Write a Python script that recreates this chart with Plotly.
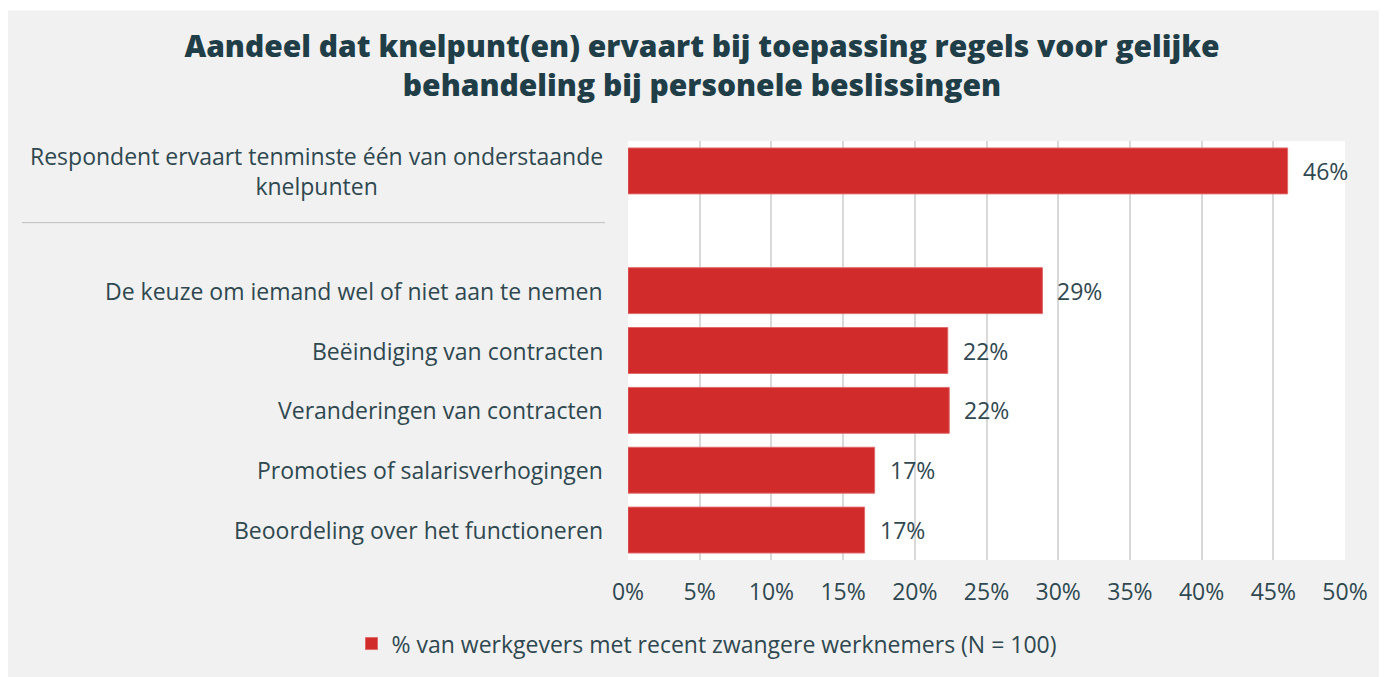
import plotly.graph_objects as go

# ---- data ----
categories = [
    "Respondent ervaart tenminste één van onderstaande<br>knelpunten",
    "De keuze om iemand wel of niet aan te nemen",
    "Beëindiging van contracten",
    "Veranderingen van contracten",
    "Promoties of salarisverhogingen",
    "Beoordeling over het functioneren",
]
values = [46.0, 28.9, 22.3, 22.4, 17.2, 16.5]
value_labels = ["46%", "29%", "22%", "22%", "17%", "17%"]
spacer = " "
category_order = [categories[0], spacer] + categories[1:]
tick_values = [0, 5, 10, 15, 20, 25, 30, 35, 40, 45, 50]
tick_labels = [f"{v}%" for v in tick_values]
series_name = "% van werkgevers met recent zwangere werknemers (N = 100)"
title_text = ("Aandeel dat knelpunt(en) ervaart bij toepassing regels voor gelijke<br>"
              "behandeling bij personele beslissingen")

# ---- style ----
OFF = 8  # page body margin
W, H = 1387 - OFF, 677 - OFF
ML, MR, MT, MB = 628 - OFF, 42, 141 - OFF, 115
PW = W - ML - MR
PH = H - MT - MB
FONT = "Open Sans"
FS = 23
TXT = "#2f4850"
TITLE_C = "#1f3e48"
BAR_C = "#d12b2b"


def px_x(px):  # page px -> paper x
    return (px - OFF - ML) / PW


def px_y(py):  # page px -> paper y
    return (H - MB - (py - OFF)) / PH


fig = go.Figure()
fig.add_trace(go.Bar(
    x=values, y=categories, orientation="h",
    name=series_name,
    marker=dict(color=BAR_C, line=dict(color="#e06a6a", width=1)),
    showlegend=True,
))

annotations = []
for cat in categories:
    annotations.append(dict(
        x=px_x(605), xref="paper", y=cat, yref="y",
        text=cat, showarrow=False, xanchor="right", yanchor="middle",
        align="center", font=dict(family=FONT, size=FS, color=TXT),
    ))
for cat, v, lab in zip(categories, values, value_labels):
    annotations.append(dict(
        x=v, xref="x", y=cat, yref="y", text=lab, showarrow=False,
        xanchor="left", yanchor="middle", xshift=13,
        font=dict(family=FONT, size=FS, color=TXT),
    ))

shapes = [
    dict(type="line", xref="paper", yref="paper",
         x0=px_x(22), x1=px_x(605), y0=px_y(223), y1=px_y(223),
         line=dict(color="#bfbfbf", width=1)),
    dict(type="rect", xref="paper", yref="paper",
         x0=px_x(0), x1=px_x(1400), y0=px_y(10), y1=px_y(0),
         fillcolor="white", line=dict(width=0), layer="above"),
]

fig.update_layout(
    width=W, height=H,
    margin=dict(l=ML, r=MR, t=MT, b=MB, pad=0),
    paper_bgcolor="#f1f1f1", plot_bgcolor="white",
    font=dict(family=FONT, size=FS, color=TXT),
    bargap=0.233,
    title=dict(text=title_text, x=(702 - OFF) / W, xanchor="center",
               y=1 - 49 / H, yanchor="top", xref="container", yref="container",
               font=dict(family=FONT, size=30, color=TITLE_C, weight=800)),
    xaxis=dict(range=[0, 50], tickvals=tick_values, ticktext=tick_labels,
               showgrid=True, gridcolor="#d9d9d9", gridwidth=1.5,
               zeroline=False, showline=False, ticks="",
               ticklabelstandoff=16,
               tickfont=dict(family=FONT, size=FS, color=TXT), fixedrange=True),
    yaxis=dict(type="category", categoryorder="array", categoryarray=category_order,
               range=[6.5, -0.5], showticklabels=False, showgrid=False,
               zeroline=False, ticks=""),
    legend=dict(orientation="h", x=px_x(707), xanchor="center",
                y=px_y(646), yanchor="middle", bgcolor="rgba(0,0,0,0)",
                font=dict(family=FONT, size=FS, color=TXT)),
    annotations=annotations,
    shapes=shapes,
)

fig.write_html("out.html")
